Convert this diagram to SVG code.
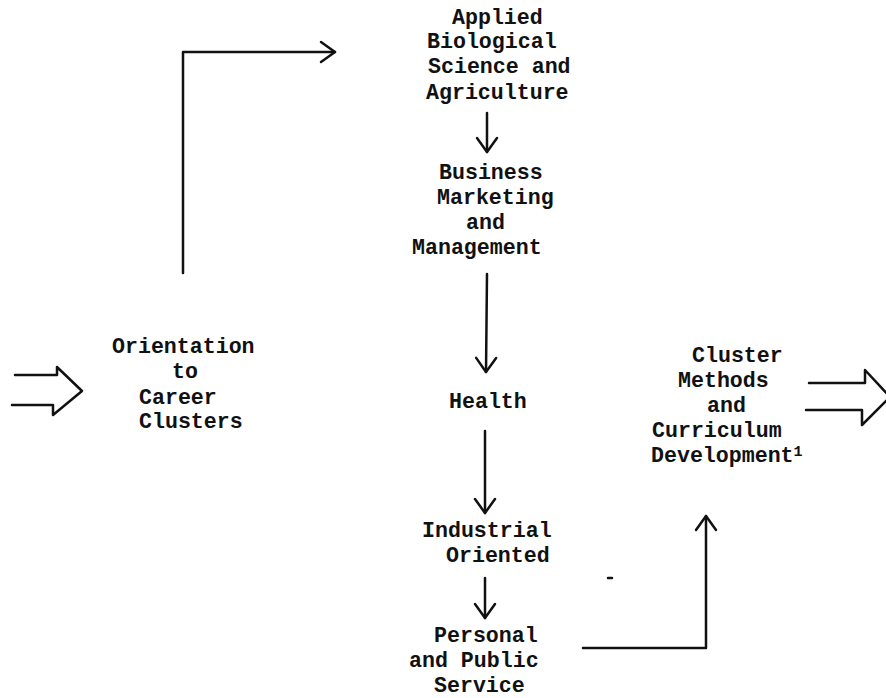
<svg xmlns="http://www.w3.org/2000/svg" width="886" height="698" viewBox="0 0 886 698">
<defs>
<style>
text{font-family:"Liberation Mono","DejaVu Sans Mono",monospace;font-weight:bold;font-size:21.6px;fill:#111;}
.sup{font-size:15px;}
.c{fill:none;stroke:#111;stroke-width:2.5;stroke-linecap:round;stroke-linejoin:round;}
</style>
<marker id="ah" markerUnits="userSpaceOnUse" viewBox="0 0 18 24" refX="16" refY="12" markerWidth="18" markerHeight="24" orient="auto">
<path d="M2,2 L16,12 L2,22" fill="none" stroke="#111" stroke-width="2.5" stroke-linecap="round" stroke-linejoin="round"/>
</marker>
</defs>
<rect width="886" height="698" fill="#fff"/>
<g id="connectors">
<path class="c" d="M183,273 L183,52 L335,52" marker-end="url(#ah)"/>
<path class="c" d="M487,113 L487,152" marker-end="url(#ah)"/>
<path class="c" d="M487,274 L486,372" marker-end="url(#ah)"/>
<path class="c" d="M485,431 L485,513" marker-end="url(#ah)"/>
<path class="c" d="M485,578 L485,618" marker-end="url(#ah)"/>
<path class="c" d="M583,648 L706,648 L706,516" marker-end="url(#ah)"/>
<path class="c" d="M15,375 L57,375 L57,367 L82,391 L53,415 L53,405 L12,405"/>
<path class="c" d="M809,383 L865,383 L865,370 L890,397 L862,425 L862,410 L806,410"/>
<path class="c" d="M608,578 L612,578"/>
</g>
<g id="applied">
<text x="452" y="24">Applied</text>
<text x="427" y="48">Biological</text>
<text x="428" y="73">Science and</text>
<text x="426" y="99">Agriculture</text>
</g>
<g id="business">
<text x="439" y="179">Business</text>
<text x="437" y="204">Marketing</text>
<text x="466" y="229">and</text>
<text x="412" y="254">Management</text>
</g>
<g id="health">
<text x="449" y="408">Health</text>
</g>
<g id="industrial">
<text x="422" y="537">Industrial</text>
<text x="446" y="562">Oriented</text>
</g>
<g id="personal">
<text x="434" y="642">Personal</text>
<text x="409" y="667">and Public</text>
<text x="434" y="692">Service</text>
</g>
<g id="orientation">
<text x="112" y="353">Orientation</text>
<text x="172" y="378">to</text>
<text x="139" y="404">Career</text>
<text x="139" y="428">Clusters</text>
</g>
<g id="cluster-methods">
<text x="692" y="362">Cluster</text>
<text x="678" y="387">Methods</text>
<text x="707" y="412">and</text>
<text x="652" y="437">Curriculum</text>
<text x="651" y="462">Development<tspan class="sup" dy="-6">1</tspan></text>
</g>
</svg>
